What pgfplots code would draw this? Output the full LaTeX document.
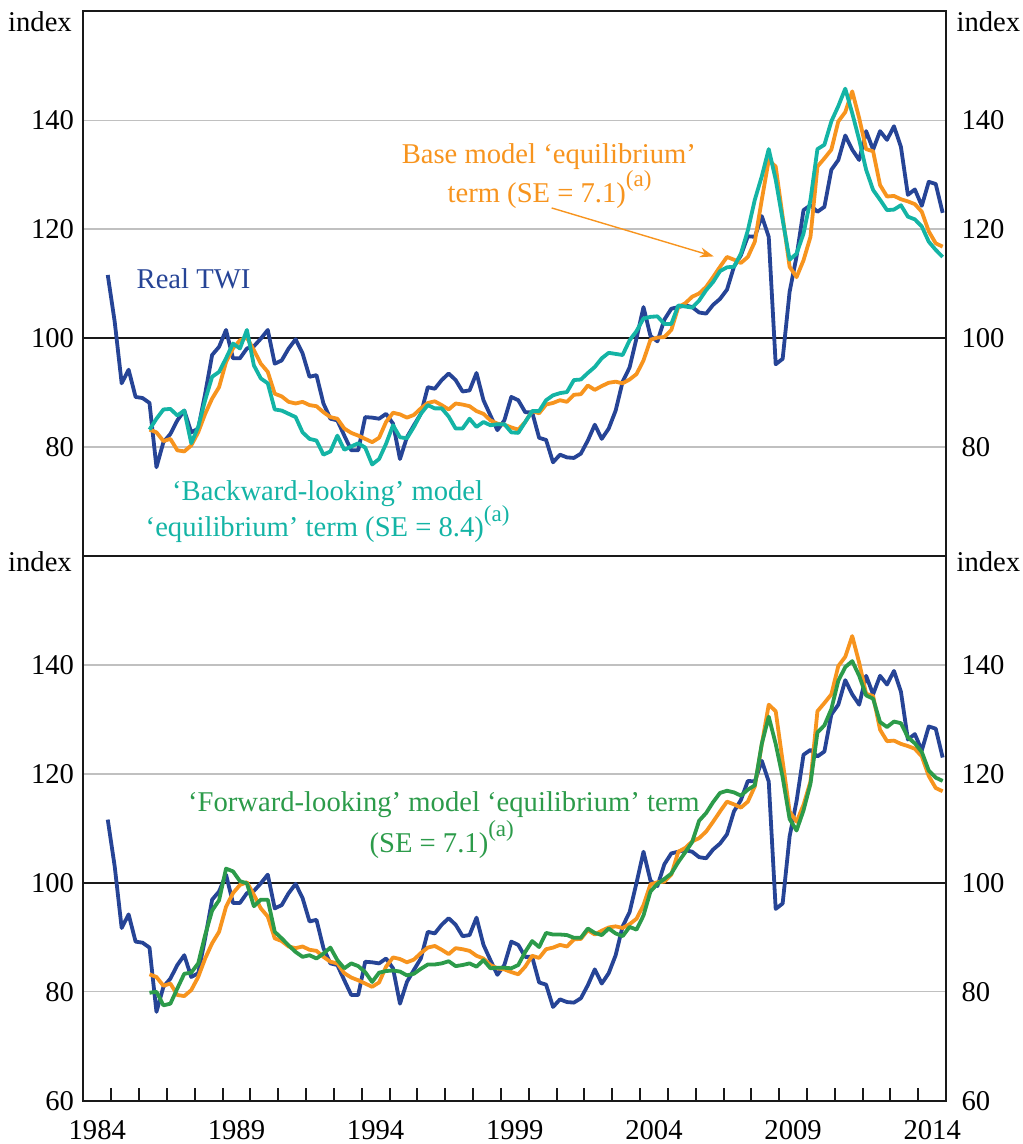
\documentclass[border=0pt]{standalone}
\usepackage{fontspec}
\setmainfont{Liberation Serif}
\usepackage{pgfplots}
\pgfplotsset{compat=1.18}
\usepackage{pgfplotstable}
\usetikzlibrary{arrows.meta}
\definecolor{twi}{RGB}{38,68,150}
\definecolor{base}{RGB}{247,148,30}
\definecolor{back}{RGB}{20,180,165}
\definecolor{fwd}{RGB}{44,155,74}
\definecolor{gridgray}{RGB}{192,192,192}
\tikzset{lbl/.style={inner sep=0pt, text=black}}
\newcommand{\supa}{\raisebox{7.9pt}{\fontsize{11.5pt}{12pt}\selectfont (a)}}

% q = quarter index (0 = 1984Q4, 120 = 2014Q4)
\pgfplotstableread{
q twi base back fwd
0 111.6 nan nan nan
1 103.0 nan nan nan
2 91.7 nan nan nan
3 94.2 nan nan nan
4 89.2 nan nan nan
5 89.0 nan nan nan
6 88.1 83.2 83.2 79.8
7 76.3 82.7 85.2 80.0
8 80.9 81.1 86.9 77.5
9 82.4 81.5 87.0 77.8
10 84.9 79.4 85.8 80.6
11 86.7 79.2 86.7 83.3
12 82.7 80.3 80.7 83.5
13 83.4 82.7 83.7 85.2
14 89.8 86.1 88.6 90.4
15 96.9 88.9 92.9 94.9
16 98.4 91.0 93.8 96.8
17 101.5 95.6 96.3 102.6
18 96.3 98.1 99.0 102.1
19 96.3 99.6 98.1 100.3
20 98.1 100.1 101.5 99.9
21 98.5 97.8 95.0 95.7
22 99.9 95.3 92.6 96.9
23 101.5 93.8 91.7 96.9
24 95.3 89.8 86.9 91.0
25 95.9 89.3 86.7 89.8
26 98.1 88.3 86.1 88.5
27 99.8 88.0 85.5 87.3
28 97.2 88.3 82.7 86.4
29 92.9 87.7 81.5 86.7
30 93.2 87.5 81.2 86.1
31 88.0 86.4 78.6 87.0
32 85.2 85.5 79.2 88.1
33 84.9 85.2 82.1 85.8
34 82.1 83.4 79.5 84.3
35 79.4 82.6 80.1 85.2
36 79.4 82.1 80.7 84.7
37 85.5 81.5 79.9 83.6
38 85.4 80.9 76.8 81.8
39 85.2 81.7 77.8 83.5
40 86.1 84.6 80.6 83.8
41 84.3 86.3 84.0 83.9
42 77.8 86.0 81.8 83.7
43 81.8 85.4 81.6 83.0
44 84.0 85.9 83.7 83.3
45 86.1 87.1 86.1 84.2
46 91.0 88.1 87.7 85.0
47 90.7 88.4 87.1 85.0
48 92.3 87.7 87.1 85.2
49 93.5 86.9 85.6 85.6
50 92.3 88.0 83.4 84.7
51 90.2 87.8 83.4 84.9
52 90.4 87.5 85.2 85.2
53 93.6 86.6 83.7 84.6
54 88.6 86.1 84.6 85.8
55 85.8 84.9 84.0 84.3
56 83.1 84.3 84.2 84.4
57 84.9 84.1 84.2 84.4
58 89.2 83.6 82.7 84.3
59 88.6 83.2 82.6 84.9
60 86.4 84.6 84.6 87.3
61 86.4 86.6 86.6 89.3
62 81.7 86.2 86.6 88.2
63 81.3 87.8 88.6 90.8
64 77.2 88.1 89.5 90.5
65 78.6 88.6 89.9 90.5
66 78.1 88.3 90.1 90.4
67 78.0 89.6 92.3 89.9
68 78.8 89.7 92.4 89.9
69 81.2 91.3 93.6 91.6
70 84.1 90.5 94.7 90.8
71 81.5 91.2 96.3 90.4
72 83.4 91.8 97.3 91.6
73 86.7 92.0 97.1 90.7
74 92.0 91.7 96.9 90.2
75 94.6 92.4 99.6 91.9
76 100.0 93.4 101.3 91.4
77 105.7 95.9 103.6 94.0
78 100.4 99.7 103.9 98.4
79 99.4 100.1 104.0 99.8
80 103.4 100.2 102.6 100.7
81 105.4 101.5 102.6 101.7
82 105.7 105.7 106.0 103.8
83 106.0 106.4 105.8 105.6
84 105.7 107.6 105.6 107.5
85 104.7 108.2 106.9 111.4
86 104.5 109.4 108.8 112.8
87 106.1 111.2 110.3 114.8
88 107.2 113.1 112.3 116.5
89 108.9 114.9 113.0 116.9
90 113.1 114.4 113.1 116.6
91 115.2 113.8 115.5 116.0
92 118.7 114.9 119.8 117.1
93 118.6 117.7 125.4 117.9
94 122.4 125.4 129.7 125.5
95 118.6 132.7 134.7 130.5
96 95.2 131.5 129.1 125.5
97 96.2 122.3 121.7 119.4
98 108.5 113.1 114.4 111.7
99 115.0 111.2 115.5 109.6
100 123.5 114.3 119.2 113.3
101 124.4 118.6 125.4 118.2
102 123.2 131.5 134.7 127.6
103 124.1 133.0 135.5 128.9
104 130.9 134.6 139.8 131.9
105 132.7 139.8 142.6 137.1
106 137.2 141.5 145.8 139.6
107 134.6 145.3 141.3 140.7
108 132.7 140.4 136.4 138.0
109 138.0 134.7 130.9 134.4
110 134.6 134.3 127.2 133.8
111 138.0 128.1 125.4 129.5
112 136.4 126.0 123.5 128.6
113 138.9 126.1 123.6 129.6
114 135.1 125.5 124.4 129.3
115 126.3 125.1 122.3 126.7
116 127.3 124.6 121.8 125.6
117 124.3 123.2 120.5 124.0
118 128.7 119.6 117.7 120.6
119 128.3 117.4 116.2 119.3
120 123.0 116.8 114.9 118.7
}\data

\begin{document}
\fontsize{14.3pt}{17pt}\selectfont
\begin{tikzpicture}[font=\fontsize{14.3pt}{17pt}\selectfont]
\useasboundingbox (-41.65pt,-293.65pt) rectangle (468.85pt,277.65pt);
\pgfplotsset{panel/.style={
  scale only axis, width=430.85pt, height=272pt,
  xmin=-3.5, xmax=120.5, ymin=60, ymax=160,
  axis line style={line width=1pt, black!90},
  ytick={80,120,140}, yticklabels={}, ymajorgrids,
  grid style={gridgray, line width=0.75pt},
  extra y ticks={100}, extra y tick labels={},
  extra y tick style={grid style={black!90, line width=1pt}, major tick length=0pt},
  y tick style={draw=none},
  clip mode=individual,
  every axis plot/.append style={line width=1.9pt, line join=round},
}}
% ---------- top panel ----------
\begin{axis}[panel, at={(0,0)}, anchor=south west, xtick=\empty]
\addplot[twi]  table[x=q, y=twi]  {\data};
\addplot[base] table[x=q, y=base] {\data};
\addplot[back] table[x=q, y=back] {\data};
\node[lbl, anchor=east, xshift=-4.5pt] at (axis cs:-3.5,80) {80};
\node[lbl, anchor=east, xshift=-4.5pt] at (axis cs:-3.5,100) {100};
\node[lbl, anchor=east, xshift=-4.5pt] at (axis cs:-3.5,120) {120};
\node[lbl, anchor=east, xshift=-4.5pt] at (axis cs:-3.5,140) {140};
\node[lbl, anchor=west, xshift=7.5pt] at (axis cs:120.5,80) {80};
\node[lbl, anchor=west, xshift=7.5pt] at (axis cs:120.5,100) {100};
\node[lbl, anchor=west, xshift=7.5pt] at (axis cs:120.5,120) {120};
\node[lbl, anchor=west, xshift=7.5pt] at (axis cs:120.5,140) {140};
\node[lbl, anchor=base east, xshift=-5.6pt, yshift=-10pt] at (axis cs:-3.5,160) {index};
\node[lbl, anchor=base west, xshift=5pt, yshift=-10pt] at (axis cs:120.5,160) {index};
\node[inner sep=0pt, anchor=base west, text=twi] at (axis cs:4.1,109.15) {Real TWI};
\node[inner sep=0pt, anchor=base, text=base] at (axis cs:63.4,132.0) {Base model `equilibrium'};
\node[inner sep=0pt, anchor=base, text=base] at (axis cs:63.5,124.9) {term (SE = 7.1)\supa};
\draw[base, line width=0.7pt, -{Stealth[length=7pt,width=5pt]}] (axis cs:63.8,123.9) -- (axis cs:87.1,115.0);
\node[inner sep=0pt, anchor=base, text=back] at (axis cs:31.6,70.2) {`Backward-looking' model};
\node[inner sep=0pt, anchor=base, text=back] at (axis cs:31.6,63.5) {`equilibrium' term (SE = 8.4)\supa};
\end{axis}
% ---------- bottom panel ----------
\begin{axis}[panel, at={(0,0)}, anchor=north west,
  xtick={-3.5,0.5,...,120.5}, xticklabels={}, xtick pos=bottom,
  tick align=inside, x tick style={black!90, line width=1pt}, major tick length=6.2pt]
\addplot[twi]  table[x=q, y=twi]  {\data};
\addplot[base] table[x=q, y=base] {\data};
\addplot[fwd]  table[x=q, y=fwd]  {\data};
\node[lbl, anchor=east, xshift=-4.5pt] at (axis cs:-3.5,60) {60};
\node[lbl, anchor=east, xshift=-4.5pt] at (axis cs:-3.5,80) {80};
\node[lbl, anchor=east, xshift=-4.5pt] at (axis cs:-3.5,100) {100};
\node[lbl, anchor=east, xshift=-4.5pt] at (axis cs:-3.5,120) {120};
\node[lbl, anchor=east, xshift=-4.5pt] at (axis cs:-3.5,140) {140};
\node[lbl, anchor=west, xshift=7.5pt] at (axis cs:120.5,60) {60};
\node[lbl, anchor=west, xshift=7.5pt] at (axis cs:120.5,80) {80};
\node[lbl, anchor=west, xshift=7.5pt] at (axis cs:120.5,100) {100};
\node[lbl, anchor=west, xshift=7.5pt] at (axis cs:120.5,120) {120};
\node[lbl, anchor=west, xshift=7.5pt] at (axis cs:120.5,140) {140};
\node[lbl, anchor=base east, xshift=-5.6pt, yshift=-7.5pt] at (axis cs:-3.5,160) {index};
\node[lbl, anchor=base west, xshift=5pt, yshift=-7.5pt] at (axis cs:120.5,160) {index};
\node[lbl, anchor=base, yshift=-19.3pt] at (axis cs:-1.5,60) {1984};
\node[lbl, anchor=base, yshift=-19.3pt] at (axis cs:18.5,60) {1989};
\node[lbl, anchor=base, yshift=-19.3pt] at (axis cs:38.5,60) {1994};
\node[lbl, anchor=base, yshift=-19.3pt] at (axis cs:58.5,60) {1999};
\node[lbl, anchor=base, yshift=-19.3pt] at (axis cs:78.5,60) {2004};
\node[lbl, anchor=base, yshift=-19.3pt] at (axis cs:98.5,60) {2009};
\node[lbl, anchor=base, yshift=-19.3pt] at (axis cs:118.5,60) {2014};
\node[inner sep=0pt, anchor=base, text=fwd] at (axis cs:48.3,113.1) {`Forward-looking' model `equilibrium' term};
\node[inner sep=0pt, anchor=base, text=fwd] at (axis cs:48.0,105.6) {(SE = 7.1)\supa};
\end{axis}
\end{tikzpicture}
\end{document}
